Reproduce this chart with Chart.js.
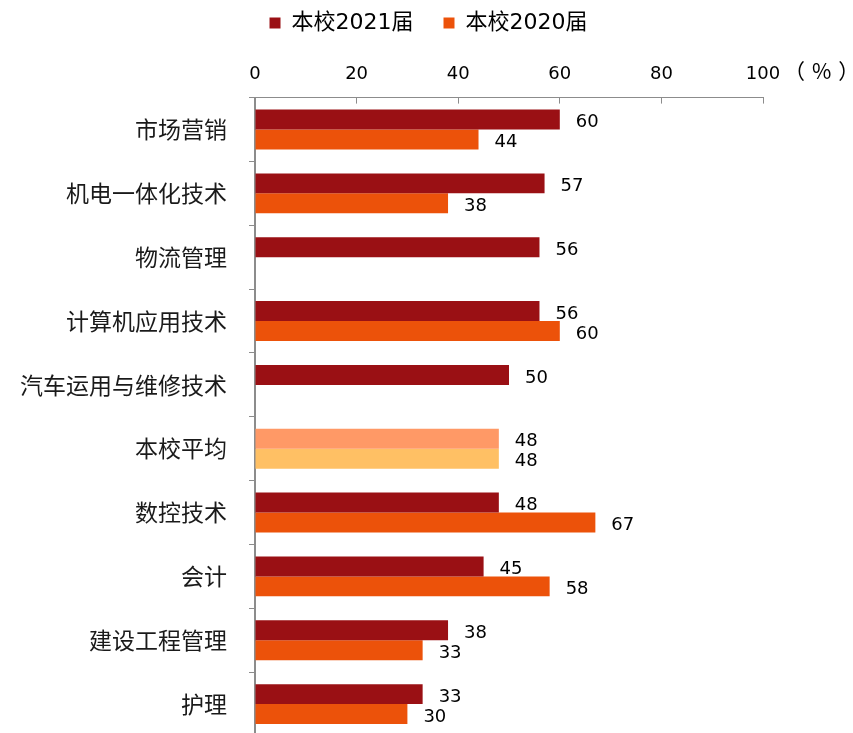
<!DOCTYPE html>
<html>
<head>
<meta charset="utf-8">
<script src="https://cdn.jsdelivr.net/npm/chart.js@4.4.7/dist/chart.umd.min.js"></script>
<style>
    body { margin: 0; background: #ffffff; overflow: hidden; }
    canvas { display: block; }
</style>
</head>
<body>
<canvas id="bars" width="853" height="736"></canvas>
<script>

// Chart data.
var majors = ["市场营销", "机电一体化技术", "物流管理", "计算机应用技术", "汽车运用与维修技术",
              "本校平均", "数控技术", "会计", "建设工程管理", "护理"];
var seriesNames = ["本校2021届", "本校2020届"];
var values2021 = [60, 57, 56, 56, 50, 48, 48, 45, 38, 33];
var values2020 = [44, 38, null, 60, null, 48, 67, 58, 33, 30];
var xTicks = [0, 20, 40, 60, 80, 100];
var unitLabel = "（%）";
var averageLabel = "本校平均";

var CJK = "'Noto Sans CJK SC', 'Noto Sans', sans-serif";
var NUM = "'DejaVu Sans', 'Noto Sans CJK SC', sans-serif";

/*
 * Colors per bar: the school average row gets its own light tones.
 */
function barColors(base, avgColor) {
    var list = [];
    for (var i = 0; i < majors.length; i++) {
        list.push(majors[i] === averageLabel ? avgColor : base);
    }
    return list;
}

// Writes the value just right of every bar end.
var valueLabels = {
    id: 'valueLabels',
    afterDatasetsDraw: function(chart) {
        var ctx = chart.ctx;
        ctx.save();
        ctx.font = "18px " + NUM;
        ctx.fillStyle = "#000000";
        ctx.textAlign = "left";
        ctx.textBaseline = "middle";
        chart.data.datasets.forEach(function(ds, d) {
            chart.getDatasetMeta(d).data.forEach(function(bar, i) {
                if (ds.data[i] === null) return;
                ctx.fillText(String(ds.data[i]), bar.x + 16, bar.y + 3);
            });
        });
        ctx.restore();
    }
};

// The unit sits to the right of the top tick labels.
var unitText = {
    id: 'unitText',
    afterDraw: function(chart) {
        var x = chart.scales.x;
        var ctx = chart.ctx;
        ctx.save();
        ctx.font = "21px " + CJK;
        ctx.letterSpacing = "7px";
        ctx.fillStyle = "#000000";
        ctx.textAlign = "left";
        ctx.textBaseline = "middle";
        ctx.fillText(unitLabel, x.right + 21, 71);
        ctx.restore();
    }
};

// Legend is centred on the whole page, not only on the plot width.
var legendShift = {
    id: 'legendShift',
    afterLayout: function(chart) {
        chart.legend.left += 47;
        chart.legend.right += 47;
    }
};

var ctx = document.getElementById('bars');

var data = {
    labels: majors,
    datasets: [{
        label: seriesNames[0],
        data: values2021,
        backgroundColor: barColors("#9A1014", "#FF9966"),
        borderWidth: 0
    }, {
        label: seriesNames[1],
        data: values2020,
        backgroundColor: barColors("#EC520A", "#FFC064"),
        borderWidth: 0
    }]
};

var options = {
    indexAxis: 'y',
    responsive: false,
    animation: false,
    layout: {
        padding: { top: -18, right: 90, left: 0, bottom: 0 }
    },
    datasets: {
        bar: { barPercentage: 1.0, categoryPercentage: 0.625 }
    },
    plugins: {
        legend: {
            display: true,
            position: 'top',
            labels: {
                boxWidth: 11,
                boxHeight: 11,
                padding: 30,
                color: "#000000",
                font: { family: NUM, size: 22 },
                generateLabels: function(chart) {
                    return chart.data.datasets.map(function(ds, i) {
                        return {
                            text: ds.label,
                            fillStyle: i === 0 ? "#9A1014" : "#EC520A",
                            strokeStyle: "rgba(0,0,0,0)",
                            lineWidth: 0,
                            datasetIndex: i
                        };
                    });
                }
            },
            onClick: null
        },
        tooltip: { enabled: false }
    },
    scales: {
        x: {
            position: 'top',
            min: 0,
            max: 100,
            afterBuildTicks: function(scale) {
                scale.ticks = xTicks.map(function(v) { return { value: v }; });
            },
            afterFit: function(scale) { scale.height += 2; },
            border: { display: true, color: "#8c8c8c", width: 1 },
            grid: { drawOnChartArea: false, tickLength: -6, color: "#8c8c8c" },
            ticks: {
                padding: 18,
                color: "#000000",
                font: { family: NUM, size: 18 }
            }
        },
        y: {
            afterFit: function(scale) {
                scale.width = 255;
                scale.paddingTop = 0;
                scale.paddingBottom = 0;
            },
            border: { display: true, color: "#8c8c8c", width: 2 },
            grid: { drawOnChartArea: false, offset: true, tickLength: 6, color: "#8c8c8c" },
            ticks: {
                padding: 22,
                color: "#1a1a1a",
                font: { family: CJK, size: 23 }
            }
        }
    }
};

var chart = new Chart(ctx, { type: 'bar', data: data, options: options, plugins: [valueLabels, unitText, legendShift] });

</script>
</body>
</html>
